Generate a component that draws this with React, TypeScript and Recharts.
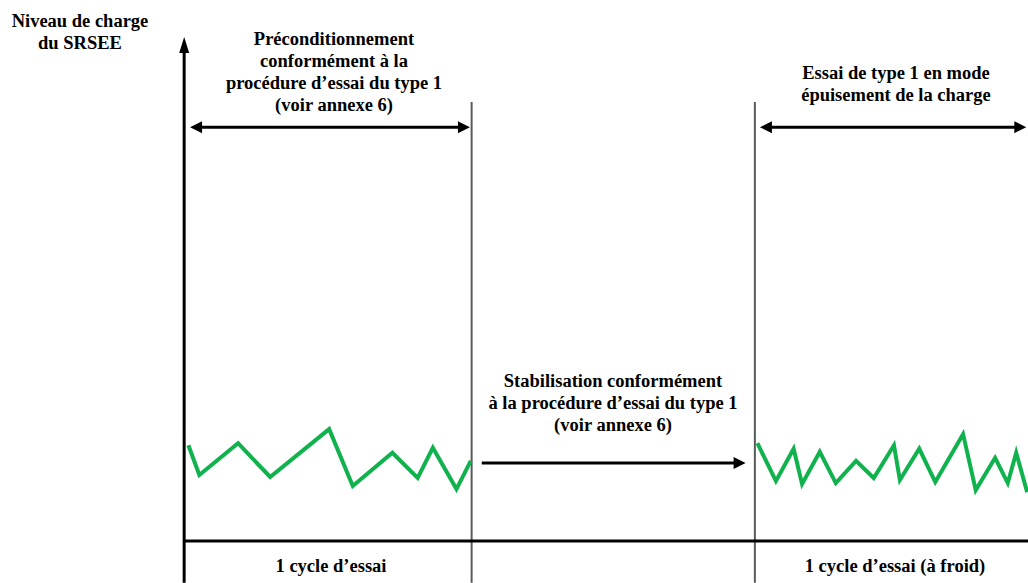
import React from 'react'
import {
  ComposedChart,
  Line,
  XAxis,
  YAxis,
  ReferenceLine,
  Customized,
} from 'recharts'

// charge level during the preconditioning cycle
const precondCycle = [
  { t: 0.4, soc: 19.0 },
  { t: 1.7, soc: 13.1 },
  { t: 6.3, soc: 19.4 },
  { t: 10.1, soc: 12.7 },
  { t: 17.1, soc: 22.2 },
  { t: 19.9, soc: 10.9 },
  { t: 24.6, soc: 17.5 },
  { t: 27.6, soc: 12.5 },
  { t: 29.4, soc: 18.5 },
  { t: 32.2, soc: 10.3 },
  { t: 33.9, soc: 15.9 },
]

// charge level during the cold type 1 test
const coldCycle = [
  { t: 67.9, soc: 19.4 },
  { t: 70.1, soc: 11.9 },
  { t: 72.2, soc: 18.3 },
  { t: 73.2, soc: 11.3 },
  { t: 75.3, soc: 17.7 },
  { t: 77.2, soc: 11.5 },
  { t: 79.6, soc: 15.9 },
  { t: 81.7, soc: 12.5 },
  { t: 84.1, soc: 19.0 },
  { t: 84.8, soc: 12.1 },
  { t: 87.1, soc: 18.3 },
  { t: 89.0, soc: 11.7 },
  { t: 92.3, soc: 21.2 },
  { t: 93.8, soc: 10.1 },
  { t: 96.1, soc: 16.5 },
  { t: 97.6, soc: 11.5 },
  { t: 98.6, soc: 17.5 },
  { t: 99.9, soc: 9.7 },
]

// phase boundaries and arrows
const phaseBounds = [34.0, 67.6]
const boundTop = 87.1
const floorY = -8.3
const spanArrows = [
  { from: 0.6, to: 33.8, level: 82.1, both: true },
  { from: 35.2, to: 66.5, level: 15.5, both: false },
  { from: 68.2, to: 99.8, level: 82.1, both: true },
]

const GREEN = '#10b24e'
const FONT = 'Liberation Serif, Times New Roman, serif'

const head = (tx: number, ty: number, dx: number, dy: number, len: number, half: number) => {
  const bx = tx - dx * len
  const by = ty - dy * len
  const px = -dy * half
  const py = dx * half
  return `${tx},${ty} ${bx + px},${by + py} ${bx - px},${by - py}`
}

const makeArrow = (both: boolean, width: number, len: number, half: number) => (props: any) => {
  const { x1, y1, x2, y2 } = props
  const L = Math.hypot(x2 - x1, y2 - y1) || 1
  const dx = (x2 - x1) / L
  const dy = (y2 - y1) / L
  const sx = both ? x1 + dx * (len - 2) : x1
  const sy = both ? y1 + dy * (len - 2) : y1
  return (
    <g>
      <line x1={sx} y1={sy} x2={x2 - dx * (len - 2)} y2={y2 - dy * (len - 2)} stroke="#000" strokeWidth={width} />
      <polygon points={head(x2, y2, dx, dy, len, half)} fill="#000" />
      {both && <polygon points={head(x1, y1, -dx, -dy, len, half)} fill="#000" />}
    </g>
  )
}

const Texts = () => {
  const t = (x: number, y: number, s: string, k: string) => (
    <text key={k} x={x} y={y} textAnchor="middle" fontFamily={FONT} fontWeight="bold" fontSize={18.5} fill="#000">
      {s}
    </text>
  )
  return (
    <g>
      {t(80, 27, 'Niveau de charge', 'a1')}
      {t(80, 49, 'du SRSEE', 'a2')}
      {t(334, 45, 'Préconditionnement', 'b1')}
      {t(334, 67, 'conformément à la', 'b2')}
      {t(334, 89, 'procédure d’essai du type 1', 'b3')}
      {t(334, 111, '(voir annexe 6)', 'b4')}
      {t(896, 79, 'Essai de type 1 en mode', 'c1')}
      {t(896, 101, 'épuisement de la charge', 'c2')}
      {t(613, 387, 'Stabilisation conformément', 'd1')}
      {t(613, 409, 'à la procédure d’essai du type 1', 'd2')}
      {t(613, 431, '(voir annexe 6)', 'd3')}
      {t(331, 572, '1 cycle d’essai', 'e1')}
      {t(895, 572, '1 cycle d’essai (à froid)', 'e2')}
    </g>
  )
}

export default function App() {
  return (
    <div style={{ position: 'absolute', left: 0, top: 0, width: 1028, height: 583, background: '#fff' }}>
      <ComposedChart width={1028} height={583} margin={{ top: 37, right: 0, bottom: 42, left: 185 }}>
        <XAxis type="number" dataKey="t" domain={[0, 100]} hide allowDataOverflow />
        <YAxis type="number" dataKey="soc" domain={[0, 100]} hide allowDataOverflow />
        {phaseBounds.map((b) => (
          <ReferenceLine
            key={b}
            segment={[{ x: b, y: floorY }, { x: b, y: boundTop }]}
            stroke="#5a5a5a"
            strokeWidth={2}
            ifOverflow="visible"
          />
        ))}
        <ReferenceLine
          segment={[{ x: 0, y: 0 }, { x: 100, y: 0 }]}
          stroke="#000"
          strokeWidth={3}
          ifOverflow="visible"
        />
        <ReferenceLine
          segment={[{ x: -0.1, y: floorY }, { x: -0.1, y: 100 }]}
          ifOverflow="visible"
          shape={makeArrow(false, 3, 16, 5)}
        />
        {spanArrows.map((a) => (
          <ReferenceLine
            key={a.from}
            segment={[{ x: a.from, y: a.level }, { x: a.to, y: a.level }]}
            ifOverflow="visible"
            shape={makeArrow(a.both, 3, 12, 6)}
          />
        ))}
        <Line
          data={precondCycle}
          dataKey="soc"
          stroke={GREEN}
          strokeWidth={4}
          dot={false}
          isAnimationActive={false}
          strokeLinejoin="miter"
        />
        <Line
          data={coldCycle}
          dataKey="soc"
          stroke={GREEN}
          strokeWidth={4}
          dot={false}
          isAnimationActive={false}
          strokeLinejoin="miter"
        />
        <Customized component={Texts} />
      </ComposedChart>
    </div>
  )
}
